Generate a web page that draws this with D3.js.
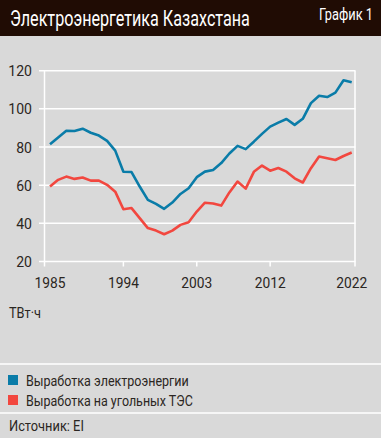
<!DOCTYPE html>
<html><head><meta charset="utf-8">
<script src="https://cdn.jsdelivr.net/npm/d3@7"></script>
<style>
html,body{margin:0;padding:0;background:#d9d9d9;}
svg{display:block;}
text{font-family:Roboto,"Liberation Sans",sans-serif;}
</style></head>
<body>
<script>
const years = d3.range(1985, 2023);
const totalGen = [81.5,85.0,88.5,88.4,89.6,87.5,86.0,83.2,78.1,67.0,66.9,59.3,52.3,50.2,47.6,50.9,55.4,58.4,64.2,67.1,68.0,71.6,76.6,80.6,78.9,82.8,86.9,90.7,92.8,94.7,91.6,94.8,103.0,106.9,106.2,108.5,115.0,113.9];
const coalGen = [59.3,62.8,64.5,63.3,64.0,62.4,62.4,60.2,56.6,47.4,48.0,42.7,37.5,36.2,34.3,36.2,39.2,40.6,46.2,50.8,50.4,49.3,56.2,61.9,58.2,67.0,70.3,67.6,69.0,67.1,63.6,61.4,68.9,75.0,74.1,73.2,75.3,77.1];
const xTicks = [1985, 1994, 2003, 2012, 2022];
const yTicks = [20, 40, 60, 80, 100, 120];
const title = "Электроэнергетика Казахстана";
const chartNo = "График 1";
const unit = "ТВт·ч";
const seriesNames = ["Выработка электроэнергии", "Выработка на угольных ТЭС"];
const source = "Источник: EI";

const W = 381, H = 438;
const BLUE = "#0a7ca8", RED = "#f2473f", TXT = "#2b2622";

const svg = d3.select("body").append("svg").attr("width", W).attr("height", H);
svg.append("rect").attr("width", W).attr("height", H).attr("fill", "#d9d9d9");

// text drawn at natural width, then condensed horizontally to the target width
function label(x, y, t, size, anchor, len, fill) {
  const el = svg.append("text").attr("x", 0).attr("y", 0).text(t)
    .attr("font-size", size).attr("text-anchor", anchor || "start")
    .attr("fill", fill || TXT);
  const nat = el.node().getComputedTextLength();
  const sx = len && nat ? len / nat : 1;
  el.attr("transform", `translate(${x},${y}) scale(${sx},1)`);
  return el;
}

// header
svg.append("rect").attr("x", 0).attr("y", 0).attr("width", W).attr("height", 36).attr("fill", "#200c04");
label(10, 25.7, title, 22, "start", 240, "#ffffff");
label(373, 19.5, chartNo, 17, "end", 54, "#ffffff");

const x = d3.scaleLinear().domain([1985, 2022]).range([50, 351.7]);
const y = d3.scaleLinear().domain([20, 120]).range([261.5, 70.7]);

const g = svg.append("g");
// grid
g.selectAll("line.grid").data(yTicks).join("line")
  .attr("x1", 39).attr("x2", 355.5)
  .attr("y1", d => y(d)).attr("y2", d => y(d))
  .attr("stroke", "#ffffff").attr("stroke-width", 1.5);
// verticals
[44.5, 355].forEach(vx => g.append("line").attr("x1", vx).attr("x2", vx)
  .attr("y1", y(120)).attr("y2", y(20) + 5).attr("stroke", "#fff").attr("stroke-width", 1.5));
// ticks
g.selectAll("line.tick").data(xTicks.slice(1, -1)).join("line")
  .attr("x1", d => x(d)).attr("x2", d => x(d))
  .attr("y1", y(20)).attr("y2", y(20) + 5)
  .attr("stroke", "#fff").attr("stroke-width", 1.5);

// y labels
yTicks.forEach(v => {
  const t = String(v);
  label(32, y(v) + 5.5, t, 15, "end", t.length * 7.9, TXT);
});
// x labels
xTicks.forEach(v => label(x(v), 287.7, String(v), 15.5, "middle", 31, TXT));

// lines
const line = d3.line().x((d, i) => x(years[i])).y(d => y(d));
g.append("path").datum(totalGen).attr("d", line).attr("fill", "none")
  .attr("stroke", BLUE).attr("stroke-width", 2.6).attr("stroke-linejoin", "round");
g.append("path").datum(coalGen).attr("d", line).attr("fill", "none")
  .attr("stroke", RED).attr("stroke-width", 2.6).attr("stroke-linejoin", "round");

// unit
label(9, 318.3, unit, 15, "start", 32, TXT);

// separators
[364, 413].forEach(sy => svg.append("line").attr("x1", 0).attr("x2", W)
  .attr("y1", sy).attr("y2", sy).attr("stroke", "#fff").attr("stroke-width", 1.5));

// legend
const colors = [BLUE, RED];
const lens = [163, 167];
seriesNames.forEach((n, i) => {
  const ly = 375 + i * 20;
  svg.append("rect").attr("x", 8).attr("y", ly).attr("width", 10).attr("height", 10).attr("fill", colors[i]);
  label(26, ly + 11, n, 15.5, "start", lens[i], TXT);
});

label(9, 430.7, source, 15.5, "start", 75, TXT);
</script>
</body></html>
